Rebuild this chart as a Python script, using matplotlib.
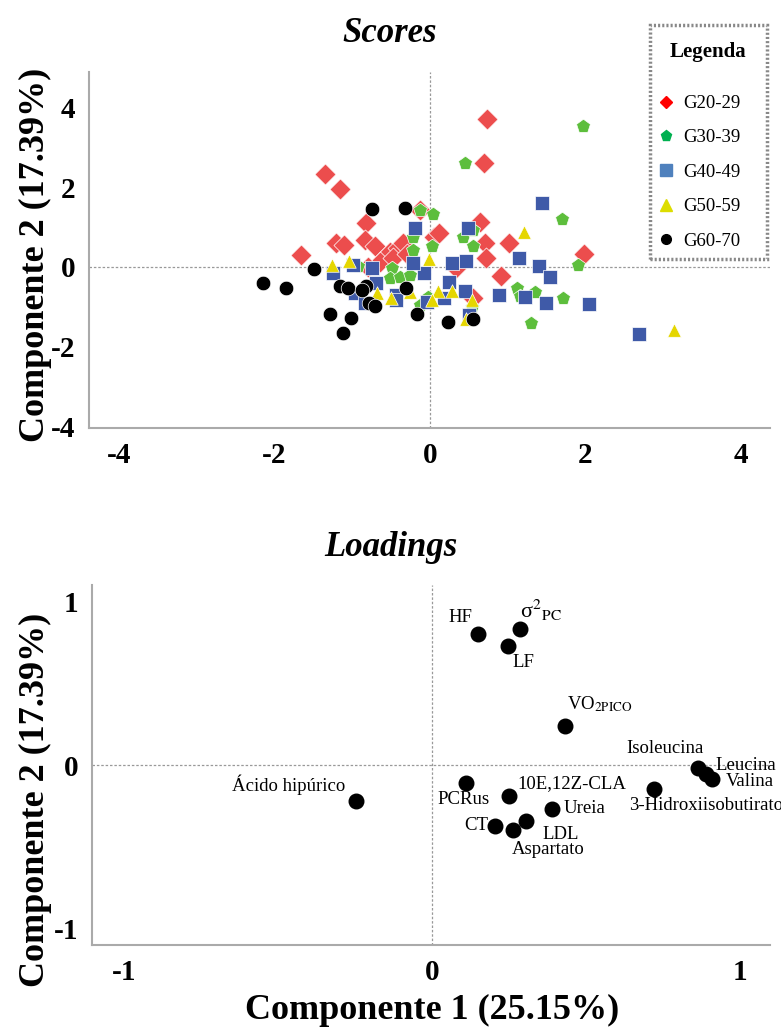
import matplotlib
matplotlib.use("Agg")
import matplotlib.pyplot as plt
from matplotlib.lines import Line2D
from matplotlib.patches import Rectangle

plt.rcParams['font.family'] = ['Liberation Serif', 'DejaVu Serif']
plt.rcParams['mathtext.fontset'] = 'stix'

# ---------------- data ----------------
g20_x = [0.73, 0.70, -1.35, -1.16, -1.66, 1.98, 0.64, 0.05, 0.12, 0.71, 1.02, 0.72, 0.92, 0.56, 0.34,
         -0.82, -1.21, -1.11, -0.84, -0.71, -0.51, -0.41, -0.35, -0.64, -0.48, -0.13, -0.30, -0.80]
g20_y = [3.70, 2.60, 2.33, 1.95, 0.30, 0.32, 1.13, 0.75, 0.85, 0.60, 0.60, 0.22, -0.23, -0.78, -0.03,
         1.10, 0.60, 0.55, 0.68, 0.53, 0.38, 0.48, 0.60, 0.13, 0.22, 1.43, 0.33, 0.00]

g30_x = [1.97, 0.45, -0.13, 0.04, 1.70, 0.43, 0.55, 0.03, 1.91, 1.12, 1.16, 1.36, 1.72, 1.30, 0.55,
         0.54, -0.22, -0.22, -0.93, -0.49, -0.51, -0.39, -0.26, -0.13, -0.02]
g30_y = [3.52, 2.60, 1.43, 1.33, 1.20, 0.75, 0.53, 0.53, 0.05, -0.52, -0.72, -0.63, -0.77, -1.39, 0.93,
         -0.99, 0.75, 0.43, 0.03, -0.03, -0.28, -0.24, -0.20, -0.95, -0.75]

g40_x = [1.44, 0.49, 0.28, 0.47, 1.15, 1.40, 1.55, -0.08, 0.24, 0.45, 0.89, 1.23, 1.50, 2.05, 0.18,
         -0.04, 0.50, 2.69, -0.19, -0.22, -0.74, -0.99, -1.25, -0.69, -0.97, -0.84, -0.43, -0.43]
g40_y = [1.61, 0.97, 0.10, 0.15, 0.22, 0.03, -0.25, -0.14, -0.38, -0.60, -0.70, -0.74, -0.89, -0.93, -0.78,
         -0.88, -1.20, -1.68, 0.97, 0.10, -0.03, 0.05, -0.15, -0.40, -0.64, -0.90, -0.70, -0.83]

g50_x = [1.21, -0.01, 0.10, 0.28, 0.03, 0.54, 0.47, -1.26, -1.04, -0.68, -0.50, -0.25, 3.15]
g50_y = [0.88, 0.20, -0.60, -0.60, -0.83, -0.83, -1.30, 0.05, 0.15, -0.65, -0.77, -0.62, -1.58]

g60_x = [-0.74, -0.32, -1.49, -1.85, -1.16, -1.05, -0.82, -0.88, -0.78, -0.71, -0.31, -1.29, -1.01,
         -1.12, -0.16, -2.15, 0.23, 0.55]
g60_y = [1.45, 1.48, -0.05, -0.53, -0.47, -0.52, -0.47, -0.57, -0.89, -0.97, -0.52, -1.18, -1.28,
         -1.64, -1.18, -0.39, -1.37, -1.30]

group_labels = ['G20-29', 'G30-39', 'G40-49', 'G50-59', 'G60-70']

load_names = ['HF', 'σ$^{2}$$_{\\mathrm{PC}}$', 'LF', r'VO$_{\mathrm{2PICO}}$', 'Isoleucina', 'Leucina',
              'Valina', '3-Hidroxiisobutirato', 'Ácido hipúrico', 'PCRus', '10E,12Z-CLA', 'Ureia',
              'CT', 'LDL', 'Aspartato']
load_x = [0.149, 0.286, 0.247, 0.432, 0.864, 0.890, 0.909, 0.720, -0.247, 0.110, 0.250, 0.390,
          0.205, 0.305, 0.263]
load_y = [0.80, 0.83, 0.73, 0.236, -0.02, -0.055, -0.085, -0.145, -0.218, -0.11, -0.19, -0.27,
          -0.37, -0.345, -0.40]

score_ticks = [-4, -2, 0, 2, 4]
load_ticks = [-1, 0, 1]

# label placement (offset in px, ha, va, fontsize)
load_offsets = [(-6, 8, 'right', 'bottom', 13.5), (0, 6, 'left', 'bottom', 16), (4, -8, 'left', 'top', 13.5),
                (2, 12, 'left', 'bottom', 13.5), (5, 11, 'right', 'bottom', 13.5), (9, 9, 'left', 'center', 13.5),
                (14, -3, 'left', 'center', 13.5), (-25, -17, 'left', 'center', 13.5),
                (-11, 16, 'right', 'center', 13.5), (-2, -17, 'center', 'center', 13.5),
                (8, 12, 'left', 'center', 13.5), (11, 1, 'left', 'center', 13.5),
                (-7, 0, 'right', 'center', 13.5), (16, -13, 'left', 'center', 13.5),
                (35, -19, 'center', 'center', 13.5)]

# ---------------- figure ----------------
W, H = 781, 1031
fig = plt.figure(figsize=(W / 100, H / 100), dpi=100)


def fx(px):
    return px / W


def fy(py):
    return 1 - py / H


spine_col = '#AAAAAA'
tick_font = dict(fontsize=21, fontweight='bold')


def style_axes(ax):
    for s in ['top', 'right']:
        ax.spines[s].set_visible(False)
    for s in ['left', 'bottom']:
        ax.spines[s].set_color(spine_col)
        ax.spines[s].set_linewidth(1.5)
    ax.tick_params(length=0, pad=10)
    ax.axhline(0, color='#999999', lw=0.9, ls=(0, (2, 1.5)), zorder=0)
    ax.axvline(0, color='#999999', lw=0.9, ls=(0, (2, 1.5)), zorder=0)


# Scores
ax1 = fig.add_axes([fx(89), fy(428), fx(770) - fx(89), fy(72) - fy(428)])
style_axes(ax1)
ax1.set_xlim(-4.39, 4.38)
ax1.set_ylim(-4.03, 4.88)
ax1.set_xticks(score_ticks)
ax1.set_yticks(score_ticks)
ax1.set_xticklabels([str(t) for t in score_ticks], **tick_font)
ax1.set_yticklabels([str(t) for t in score_ticks], **tick_font)

ec = 'white'
ax1.scatter(g20_x, g20_y, marker='D', s=115, c='#EC4D4D', edgecolors=ec, linewidths=0.5, zorder=3)
ax1.scatter(g30_x, g30_y, marker='p', s=110, c='#5DBE3C', edgecolors=ec, linewidths=0.5, zorder=4)
ax1.scatter(g40_x, g40_y, marker='s', s=110, c='#3F5AA8', edgecolors=ec, linewidths=0.5, zorder=5)
ax1.scatter(g50_x, g50_y, marker='^', s=95, c='#E5D600', edgecolors=ec, linewidths=0.5, zorder=6)
ax1.scatter(g60_x, g60_y, marker='o', s=110, c='black', edgecolors=ec, linewidths=0.5, zorder=7)

fig.text(fx(390), fy(33), 'Scores', ha='center', va='center', fontsize=25,
         fontweight='bold', fontstyle='italic')
fig.text(fx(35), fy(255), 'Componente 2 (17.39%)', ha='center', va='center', rotation=90,
         fontsize=26, fontweight='bold')

# Legend
handles = [
    Line2D([], [], ls='none', marker='D', markersize=6, color='#FF0000'),
    Line2D([], [], ls='none', marker='p', markersize=8, color='#00B050'),
    Line2D([], [], ls='none', marker='s', markersize=8, color='#4F81BD'),
    Line2D([], [], ls='none', marker='^', markersize=8, color='#DDDD00'),
    Line2D([], [], ls='none', marker='o', markersize=7, color='black'),
]
fig.legend(handles, group_labels, loc='upper left', bbox_to_anchor=(fx(656.6), fy(95)),
           frameon=False, borderaxespad=0, borderpad=0, handlelength=1.0, handletextpad=0.4,
           labelspacing=0.92, prop={'size': 13.5, 'family': 'Liberation Serif'})
fig.text(fx(708), fy(52), 'Legenda', ha='center', va='center', fontsize=15, fontweight='bold')
fig.add_artist(Rectangle((fx(650), fy(259)), fx(767) - fx(650), fy(25) - fy(259),
                         transform=fig.transFigure, fill=False, edgecolor='#888888',
                         lw=2.5, ls=(0, (0.6, 0.6))))

# Loadings
ax2 = fig.add_axes([fx(92), fy(945), fx(770) - fx(92), fy(585) - fy(945)])
style_axes(ax2)
ax2.set_xlim(-1.104, 1.097)
ax2.set_ylim(-1.10, 1.10)
ax2.set_xticks(load_ticks)
ax2.set_yticks(load_ticks)
ax2.set_xticklabels([str(t) for t in load_ticks], **tick_font)
ax2.set_yticklabels([str(t) for t in load_ticks], **tick_font)
ax2.scatter(load_x, load_y, s=110, c='black', zorder=3)
for name, x, y, (dx, dy, ha, va, fs) in zip(load_names, load_x, load_y, load_offsets):
    ax2.annotate(name, (x, y), xytext=(dx * 0.72, dy * 0.72), textcoords='offset points',
                 ha=ha, va=va, fontsize=fs, annotation_clip=False)

fig.text(fx(391), fy(548), 'Loadings', ha='center', va='center', fontsize=25,
         fontweight='bold', fontstyle='italic')
fig.text(fx(35), fy(800), 'Componente 2 (17.39%)', ha='center', va='center', rotation=90,
         fontsize=26, fontweight='bold')
fig.text(fx(432), fy(1010), 'Componente 1 (25.15%)', ha='center', va='center',
         fontsize=26, fontweight='bold')

fig.savefig('out.png', dpi=100)
